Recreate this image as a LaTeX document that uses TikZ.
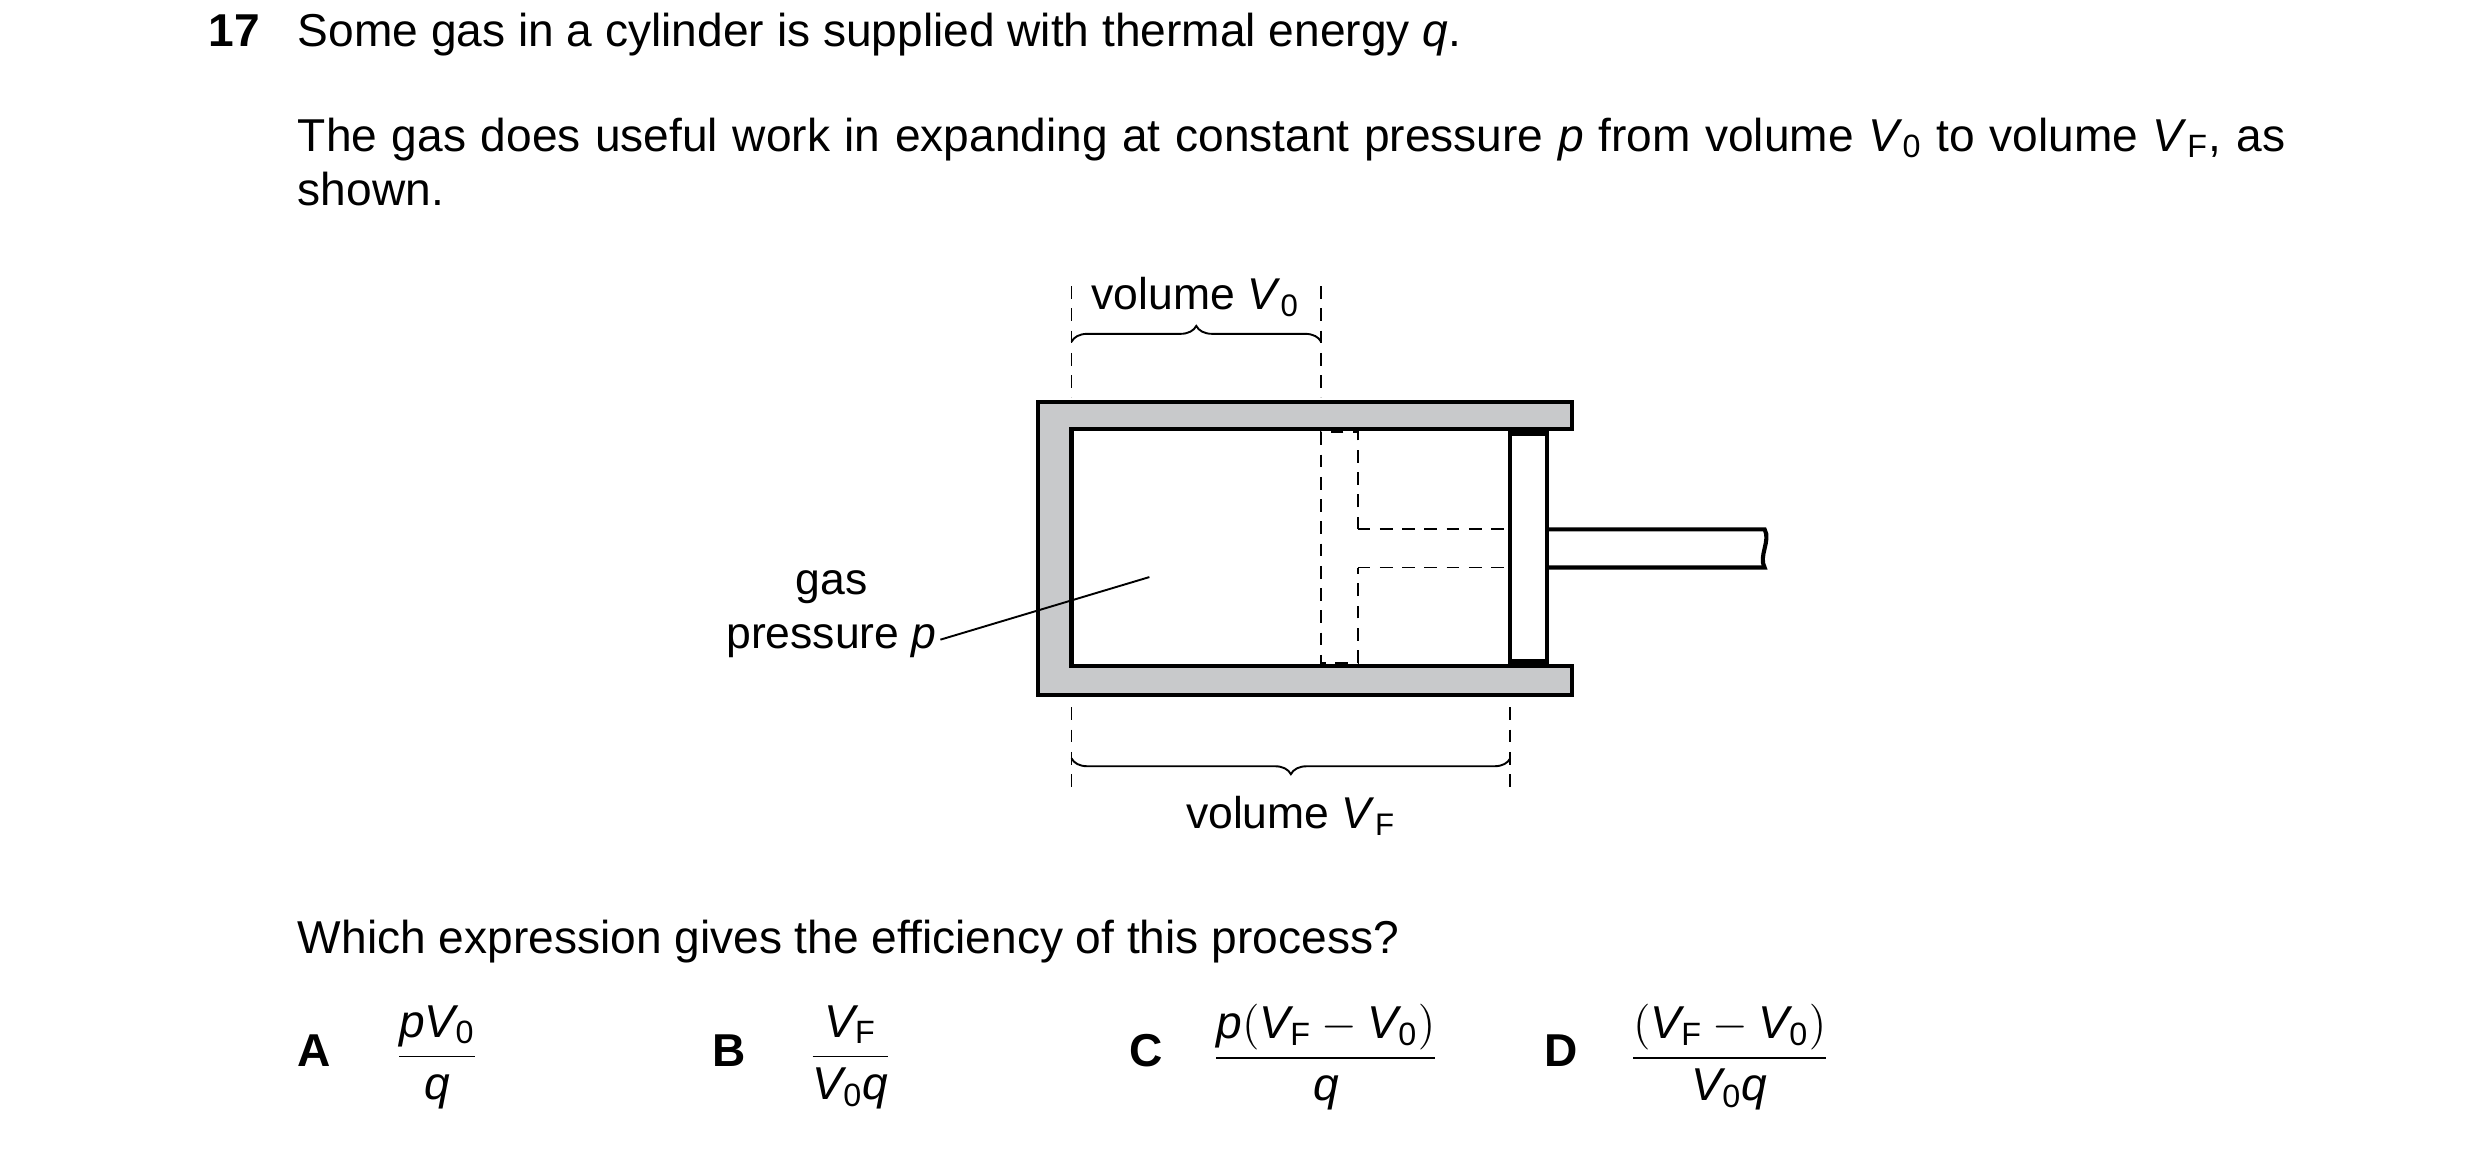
\documentclass[tikz,border=0pt]{standalone}
\usepackage{fontspec}
\setmainfont{Liberation Sans}
\usetikzlibrary{decorations.pathreplacing}
\definecolor{wall}{HTML}{C8C9CB}
\newcommand{\iv}[1]{\textit{#1}}
\newcommand{\myfrac}[2]{$\displaystyle\frac{\vphantom{Vp}#1}{\vphantom{Vq}#2}$}
\begin{document}
\begin{tikzpicture}[x=0.5pt,y=-0.5pt,
  txt/.style={font=\fontsize{14.5}{17}\selectfont,inner sep=0pt},
  lbl/.style={font=\fontsize{14}{17}\selectfont,inner sep=0pt},
  sol/.style={line width=1.3pt},
  dsh/.style={line width=0.6pt,dash pattern=on 4pt off 3pt}]
\useasboundingbox (0,0) rectangle (1560,727);
% text
\node[txt,anchor=base west] (n17) at (131,29) {\textbf{17}};
\node[txt,anchor=base west] (t1) at (187,29) {Some gas in a cylinder is supplied with thermal energy \iv{q}.};
\node[txt,anchor=base west,text width=625pt,align=justify] (t2) at (187,95) {The gas does useful work in expanding at constant pressure \iv{p} from volume \iv{V}\textsubscript{0} to volume \iv{V}\textsubscript{F}, as shown.};
\node[txt,anchor=base west] (t3) at (187,600) {Which expression gives the efficiency of this process?};
% options
\node[txt,anchor=base west] (A) at (187,671) {\textbf{A}};
\node[txt] (fA) at (275,665) {\myfrac{\iv{pV}\textsubscript{0}}{\iv{q}}};
\node[txt,anchor=base west] (B) at (448,671) {\textbf{B}};
\node[txt] (fB) at (535,665) {\myfrac{\iv{V}\textsubscript{F}}{\iv{V}\textsubscript{0}\iv{q}}};
\node[txt,anchor=base west] (C) at (710,671) {\textbf{C}};
\node[txt] (fC) at (834,665) {\myfrac{\iv{p}(\iv{V}\textsubscript{F}-\iv{V}\textsubscript{0})}{\iv{q}}};
\node[txt,anchor=base west] (D) at (971,671) {\textbf{D}};
\node[txt] (fD) at (1088,665) {\myfrac{(\iv{V}\textsubscript{F}-\iv{V}\textsubscript{0})}{\iv{V}\textsubscript{0}\iv{q}}};
% cylinder
\fill[wall,draw=black,sol] (989,253) -- (653,253) -- (653,437) -- (989,437) -- (989,419) -- (674,419) -- (674,270) -- (989,270) -- cycle;
% old piston (dashed)
\draw[dsh] (854,333) -- (854,272) -- (831,272) -- (831,417) -- (854,417) -- (854,357);
\draw[dsh] (854,333) -- (950,333);
\draw[dsh] (854,357) -- (950,357);
% piston
\draw[sol,fill=white] (950,272) rectangle (973,417);
\draw[line width=2.5pt] (950,272) -- (973,272);
\draw[line width=2.5pt] (950,417) -- (973,417);
\draw[sol] (973,333) -- (1110,333) .. controls (1114,340) and (1106,350) .. (1110,357) -- (973,357);
% dimension lines
\draw[dsh] (674,180) -- (674,250);
\draw[dsh] (831,180) -- (831,250);
\draw[dsh] (674,445) -- (674,500);
\draw[dsh] (950,445) -- (950,500);
\draw[line width=0.6pt,decorate,decoration={brace,amplitude=5pt}] (674,215) -- (831,215);
\draw[line width=0.6pt,decorate,decoration={brace,amplitude=5pt}] (950,477) -- (674,477);
\node[lbl,anchor=base] (v0) at (752,195) {volume \iv{V}\textsubscript{0}};
\node[lbl,anchor=base] (vf) at (812,521) {volume \iv{V}\textsubscript{F}};
% gas label
\node[lbl,anchor=base] (gas) at (523,374) {gas};
\node[lbl,anchor=base] (pr) at (523,408) {pressure \iv{p}};
\coordinate (gp) at (723,363);
\draw[line width=0.6pt] (pr.east)+(2,-1) -- (gp);
\end{tikzpicture}
\end{document}
